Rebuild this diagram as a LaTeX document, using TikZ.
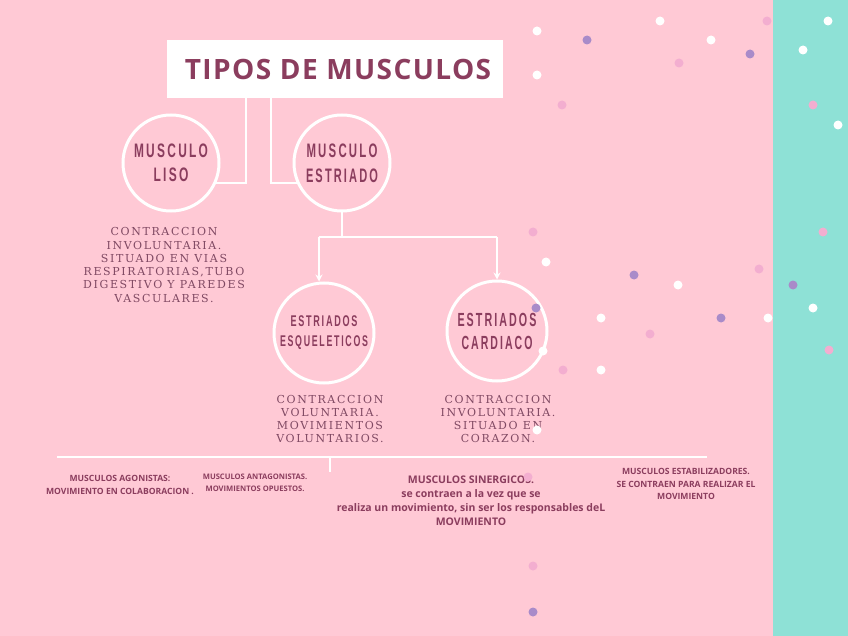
\documentclass[tikz,border=0pt]{standalone}
\usepackage{fontspec}
\usepackage{graphicx}
\usetikzlibrary{arrows.meta}
\newfontfamily\titlefont[LetterSpace=5]{Open Sans}
\newfontfamily\condfont[FakeStretch=0.62,LetterSpace=12]{Liberation Sans}
\newfontfamily\slabfont[LetterSpace=15]{DejaVu Serif}
\newfontfamily\smallfont{Open Sans}
\newcommand\cw[2]{\resizebox{#1pt}{\height}{#2}}
\definecolor{bgpink}{HTML}{FFC9D5}
\definecolor{teal}{HTML}{8EE1D6}
\definecolor{plum}{HTML}{8B3D5E}
\definecolor{mauve}{HTML}{804963}
\definecolor{dotpurple}{HTML}{A98BC9}
\definecolor{dotpink}{HTML}{F3AED0}
\tikzset{
  conn/.style={draw=white, line width=2.5pt},
  arr/.style={conn, -{Stealth[length=7pt,width=7pt]}},
  circ/.style={circle, draw=white, line width=3pt, text=plum, align=center, inner sep=0pt},
  body/.style={text=mauve, align=center, font=\slabfont\fontsize{11}{13.3}\selectfont},
  small/.style={text=plum, align=center},
  wdot/.style={fill=white},
  pdot/.style={fill=dotpink},
  vdot/.style={fill=dotpurple}
}
\begin{document}
\begin{tikzpicture}[x=1pt,y=-1pt]
\fill[bgpink] (0,0) rectangle (848,636);
\fill[teal] (773,0) rectangle (848,636);
\useasboundingbox (0,0) rectangle (848,636);

% title
\node[fill=white, minimum width=336pt, minimum height=58pt, inner sep=0pt, text=plum,
      font=\titlefont\bfseries\fontsize{28}{30}\selectfont] (title) at (335,69) {\hspace*{6pt}TIPOS DE MUSCULOS};

% circles
\node[circ, minimum size=96pt, font=\condfont\bfseries\fontsize{19.5}{24}\selectfont] (liso) at (171,163) {\cw{74}{MUSCULO}\\\cw{35}{LISO}};
\node[circ, minimum size=96pt, font=\condfont\bfseries\fontsize{19.5}{25}\selectfont] (estriado) at (342,163) {\cw{71}{MUSCULO}\\\cw{72}{ESTRIADO}};
\node[circ, minimum size=100pt, font=\condfont\bfseries\fontsize{15.5}{20}\selectfont] (esq) at (324,333) {\cw{67}{ESTRIADOS}\\\cw{88}{ESQUELETICOS}};
\node[circ, minimum size=100pt, font=\condfont\bfseries\fontsize{19}{23}\selectfont] (card) at (497,331) {\cw{79}{ESTRIADOS}\\\cw{71}{CARDIACO}};

% connectors
\coordinate (t1) at (246,98);
\coordinate (t2) at (271,98);
\draw[conn] (t1) |- (liso.-24);
\draw[conn] (t2) |- (estriado.204);
\coordinate (bl) at (319,237);
\coordinate (br) at (497,237);
\draw[conn] (estriado.south) -- (estriado.south |- bl);
\draw[conn] (bl) -- (br);
\draw[arr] (bl) -- (bl |- esq.north);
\draw[arr] (br) -- (card.north);

% body texts
\node[body] (tliso) at (164,265) {CONTRACCION\\INVOLUNTARIA.\\SITUADO EN VIAS\\RESPIRATORIAS,TUBO\\DIGESTIVO Y PAREDES\\VASCULARES.};
\node[body] (tesq) at (330,419) {CONTRACCION\\VOLUNTARIA.\\MOVIMIENTOS\\VOLUNTARIOS.};
\node[body] (tcard) at (498,419) {CONTRACCION\\INVOLUNTARIA.\\SITUADO EN\\CORAZON.};

% bottom line
\coordinate (hl) at (57,457);
\coordinate (hr) at (707,457);
\coordinate (tk) at (330,457);
\coordinate (tkb) at (330,472);
\draw[conn] (hl) -- (hr);
\draw[conn] (tk) -- (tkb);

% bottom texts
\node[small, font=\smallfont\bfseries\fontsize{8.6}{13}\selectfont] (agon) at (120,485) {MUSCULOS AGONISTAS:\\MOVIMIENTO EN COLABORACION .};
\node[small, font=\smallfont\bfseries\fontsize{7.6}{12}\selectfont] (antag) at (255,483) {MUSCULOS ANTAGONISTAS.\\MOVIMIENTOS OPUESTOS.};
\node[small, font=\smallfont\bfseries\fontsize{10.5}{14}\selectfont] (siner) at (471,501) {MUSCULOS SINERGICOS.\\se contraen a la vez que se\\realiza un movimiento, sin ser los responsables deL\\MOVIMIENTO};
\node[small, font=\smallfont\bfseries\fontsize{8.6}{12.5}\selectfont] (estab) at (686,484) {MUSCULOS ESTABILIZADORES.\\SE CONTRAEN PARA REALIZAR EL\\MOVIMIENTO};

% dots
\foreach \x/\y in {537/31,660/21,711/40,537/75,828/21,803/50,838/125,546/262,678/285,813/308,601/318,768/318,543/351,601/370,537/430}
  \fill[wdot] (\x,\y) circle (4.5);
\foreach \x/\y in {767/21,679/63,562/105,813/105,533/232,759/269,823/232,650/334,829/350,563/370,528/477,533/566}
  \fill[pdot] (\x,\y) circle (4.5);
\foreach \x/\y in {587/40,750/54,634/275,793/285,536/308,721/318,533/612}
  \fill[vdot] (\x,\y) circle (4.5);
\end{tikzpicture}
\end{document}
